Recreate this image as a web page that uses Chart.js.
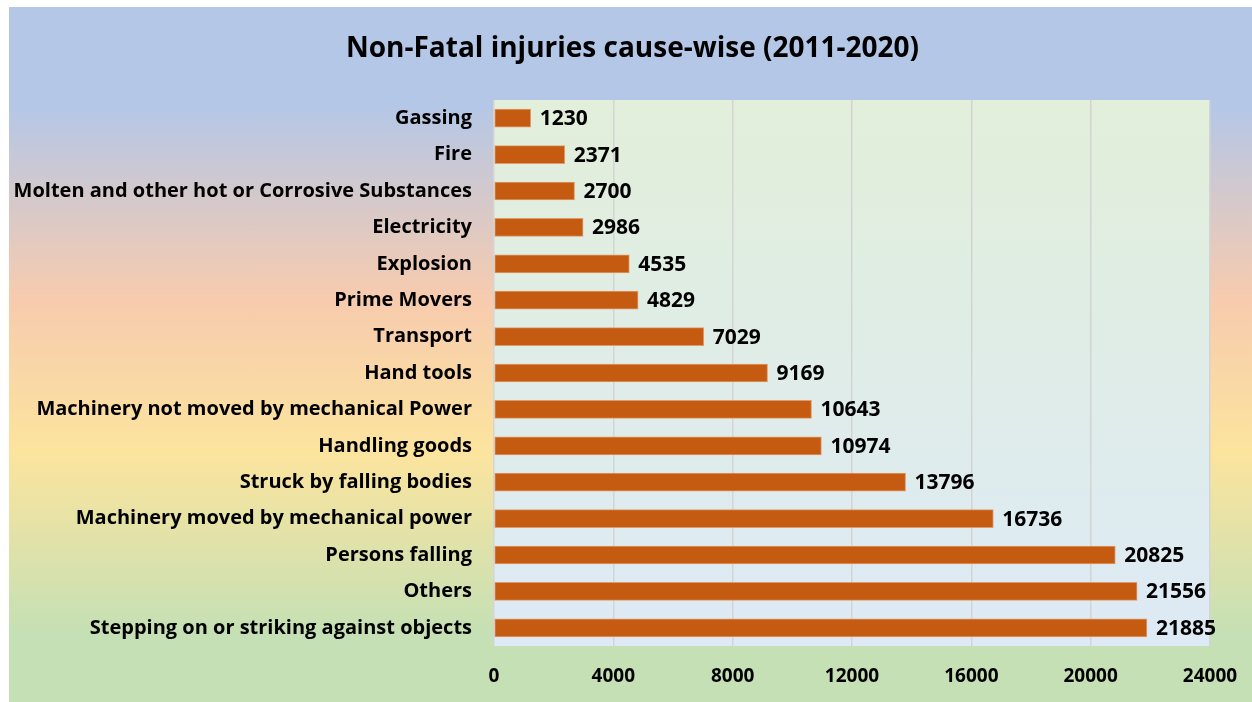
<!DOCTYPE html>
<html lang="en">
<head>
    <meta charset="UTF-8">
    <script src="https://cdn.jsdelivr.net/npm/chart.js"></script>
    <title>Non-Fatal injuries cause-wise</title>
    <style>
        body{ margin: 0; background: #fff; }
        .container{
            position: absolute; left: 9px; top: 7px;
            width: 1243px; height: 695px;
            background: linear-gradient(to bottom, #B4C7E7 0%, #B4C7E7 14%, #F7CBAE 42%, #FCE49E 64%, #C5E0B4 90%, #C5E0B4 100%);
        }
    </style>
</head>
<body>
    <div class="container">
        <canvas id="myChart" width="1243" height="695"></canvas>
    </div>
    <script>
        // causes, top to bottom as in the picture
        const causes = [
            'Gassing', 'Fire', 'Molten and other hot or Corrosive Substances', 'Electricity',
            'Explosion', 'Prime Movers', 'Transport', 'Hand tools',
            'Machinery not moved by mechanical Power', 'Handling goods', 'Struck by falling bodies',
            'Machinery moved by mechanical power', 'Persons falling', 'Others',
            'Stepping on or striking against objects'
        ];
        const injuries = [1230, 2371, 2700, 2986, 4535, 4829, 7029, 9169, 10643, 10974, 13796, 16736, 20825, 21556, 21885];
        const xTicks = [0, 4000, 8000, 12000, 16000, 20000, 24000];
        const chartTitle = 'Non-Fatal injuries cause-wise (2011-2020)';

        const fontName = '"Open Sans", Lato, sans-serif';

        // plot area background + title across the whole card
        const plotBg = {
            id: 'plotBg',
            beforeDraw(chart){
                const {ctx, chartArea: a} = chart;
                const g = ctx.createLinearGradient(0, a.top, 0, a.bottom);
                g.addColorStop(0, '#E2EFDA');
                g.addColorStop(1, '#DDEAF6');
                ctx.save();
                ctx.fillStyle = g;
                ctx.fillRect(a.left, a.top, a.right - a.left, a.bottom - a.top);
                ctx.font = 'bold 28px ' + fontName;
                ctx.fillStyle = '#000';
                ctx.textAlign = 'center';
                ctx.textBaseline = 'middle';
                ctx.fillText(chartTitle, chart.width / 2 + 2, 42);
                ctx.restore();
            }
        };

        // value labels at bar ends
        const valueLabels = {
            id: 'valueLabels',
            afterDatasetsDraw(chart){
                const ctx = chart.ctx;
                const meta = chart.getDatasetMeta(0);
                ctx.save();
                ctx.font = 'bold 21px ' + fontName;
                ctx.fillStyle = '#000';
                ctx.textAlign = 'left';
                ctx.textBaseline = 'middle';
                meta.data.forEach(function(bar, i){
                    ctx.fillText(injuries[i], bar.x + 9, bar.y + 1);
                });
                ctx.restore();
            }
        };

        const ctx = document.getElementById('myChart');
        let config = {
            type: 'bar',
            data: {
                labels: causes,
                datasets: [{
                    data: injuries,
                    backgroundColor: '#C55A11',
                    borderColor: '#E09A6C',
                    borderWidth: 1,
                    borderSkipped: false,
                    barThickness: 18
                }]
            },
            plugins: [plotBg, valueLabels],
            options: {
                responsive: false,
                animation: false,
                indexAxis: 'y',
                layout: { padding: { left: 0, right: 42, top: 93, bottom: 0 } },
                plugins: {
                    legend: { display: false },
                    tooltip: { enabled: false },
                    title: { display: false }
                },
                scales: {
                    x: {
                        min: 0, max: 24000,
                        afterBuildTicks(s){ s.ticks = xTicks.map(v => ({ value: v })); },
                        afterFit(s){ s.height = 56; s.paddingLeft = 0; s.paddingRight = 0; },
                        grid: { color: '#D4D4D4', lineWidth: 1.5, drawTicks: false },
                        border: { display: false },
                        ticks: {
                            padding: 19,
                            color: '#000',
                            font: { family: fontName, size: 19, weight: 'bold' },
                            callback: v => String(v)
                        }
                    },
                    y: {
                        afterFit(s){ s.width = 485; s.paddingTop = 0; s.paddingBottom = 0; },
                        grid: { display: false, drawTicks: false },
                        border: { display: false },
                        ticks: {
                            padding: 22,
                            color: '#000',
                            font: { family: fontName, size: 20, weight: 'bold' }
                        }
                    }
                }
            }
        };
        let myChart = new Chart(ctx, config);
    </script>
</body>
</html>
